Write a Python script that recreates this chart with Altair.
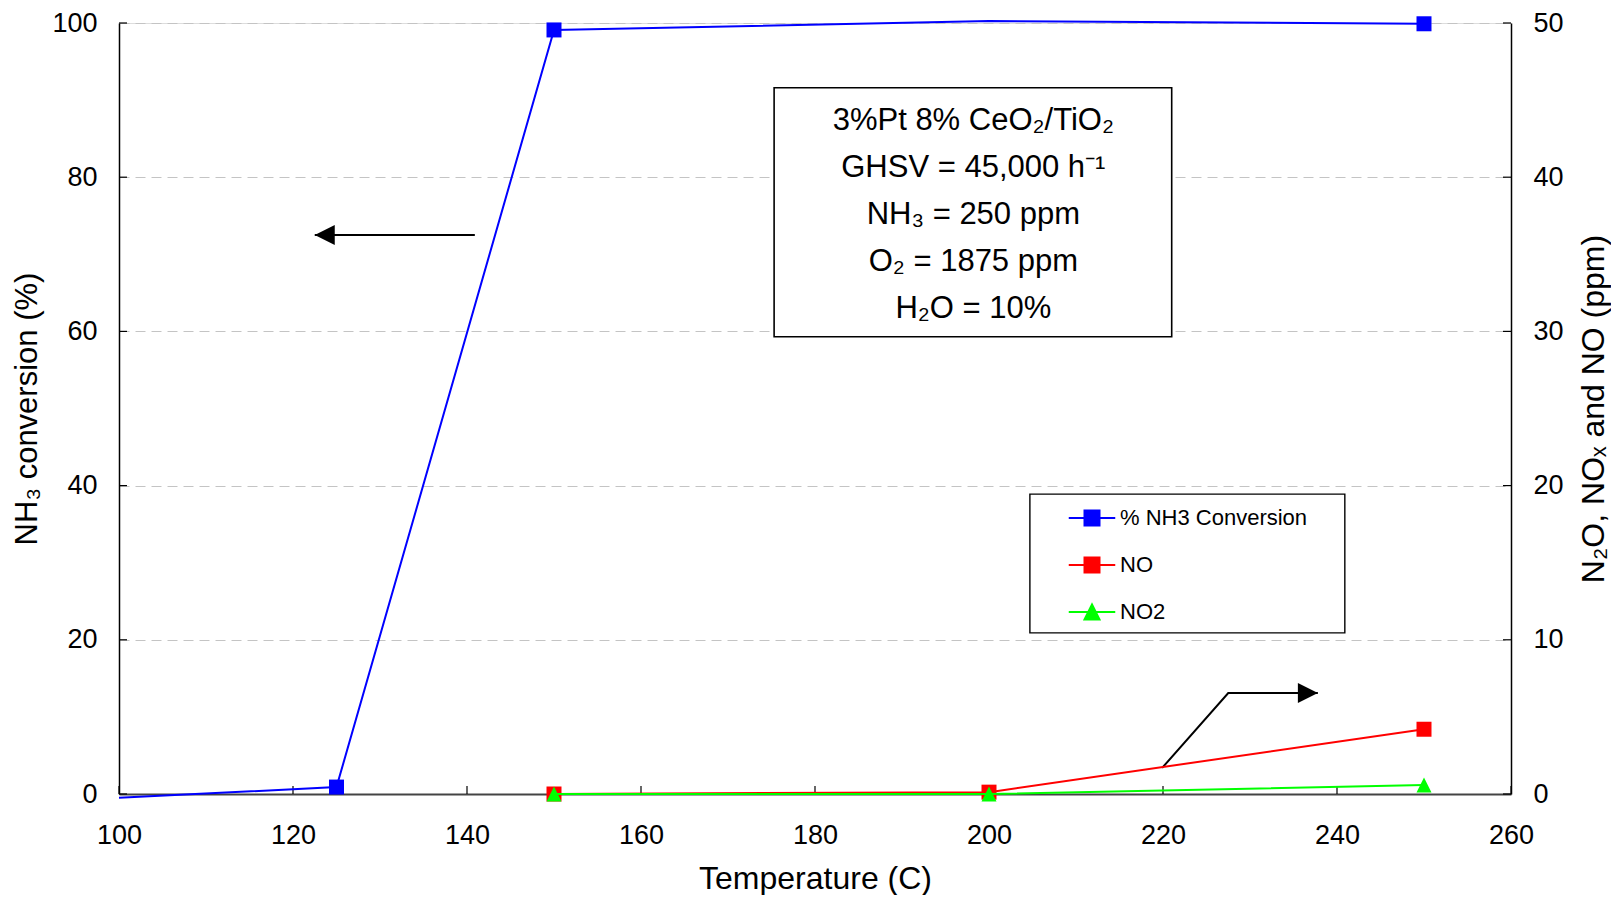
import altair as alt
import pandas as pd

# ---------------- data ----------------
temps_nh3 = [100, 125, 150, 200, 250]
nh3_conv = [-0.5, 0.9, 99.1, 100.25, 99.9]

temps_nox = [150, 200, 250]
no_ppm = [0.0, 0.12, 4.2]
no2_ppm = [0.0, 0.0, 0.58]

series_names = ["% NH3 Conversion", "NO", "NO2"]
series_colors = ["#0000FF", "#FF0000", "#00FF00"]

x_ticks = [100, 120, 140, 160, 180, 200, 220, 240, 260]
left_ticks = [0, 20, 40, 60, 80, 100]
right_ticks = [0, 10, 20, 30, 40, 50]

box_lines = [
    "3%Pt 8% CeO₂/TiO₂",
    "GHSV = 45,000 h⁻¹",
    "NH₃ = 250 ppm",
    "O₂ = 1875 ppm",
    "H₂O = 10%",
]
# annotation anchors, in data units
box_t = [175.3, 221.0]
box_v = [59.3, 91.6]
box_text_at = [198.2, 87.3]
legend_box_t = [204.7, 240.9]
legend_box_v = [20.9, 38.9]
arrow_left_t = [140.9, 122.5]
arrow_left_v = [72.5, 72.5]
arrow_right_t = [219.9, 227.5, 237.8]
arrow_right_v = [1.69, 6.55, 6.55]

# ---------------- layout ----------------
W, H = 1392, 771
FONT = "Liberation Sans"

xs = alt.Scale(domain=[100, 260], nice=False, zero=False)
ls = alt.Scale(domain=[0, 100], nice=False, zero=False)
rs = alt.Scale(domain=[0, 50], nice=False, zero=False)

common = dict(labelFont=FONT, titleFont=FONT, labelColor="black", titleColor="black",
              titleFontWeight="normal", labelFlush=False, ticks=False, format="d",
              labelFontSize=27)
x_axis = alt.Axis(values=x_ticks, title="Temperature (C)", grid=False,
                  domainColor="#444444", domainWidth=2,
                  labelPadding=28, titleFontSize=32, titlePadding=15, **common)
left_axis = alt.Axis(values=left_ticks, title="NH₃ conversion (%)", grid=True,
                     gridDash=[10, 6], gridColor="#c4c4c4", gridWidth=1,
                     domainColor="#000000", domainWidth=1.5,
                     labelPadding=22, titleFontSize=31, titlePadding=8, **common)
right_axis = alt.Axis(values=right_ticks, orient="right", title="N₂O, NOₓ and NO (ppm)",
                      grid=False, domainColor="#000000", domainWidth=1.5,
                      labelPadding=22, titleFontSize=32, titlePadding=15,
                      titleAngle=270, titleBaseline="top", **common)

X = alt.X("t:Q", scale=xs, axis=x_axis)
YL = alt.Y("v:Q", scale=ls, axis=left_axis)
YR = alt.Y("v:Q", scale=rs, axis=right_axis)

C = alt.Color("s:N", scale=alt.Scale(domain=series_names, range=series_colors), legend=None)

# legend symbols: a line stub with the marker on it
sym_sq = "M-3.1,0H3.1M-1,-1H1V1H-1Z"
sym_tri = "M-3.1,0H3.1M0,-1L1,1L-1,1Z"
legend = alt.Legend(
    orient="none", legendX=962, legendY=484, title=None, padding=0,
    labelFont=FONT, labelFontSize=22, labelColor="black", labelOffset=17, labelLimit=400,
    symbolSize=225, symbolStrokeWidth=2, symbolOffset=0, rowPadding=23,
    symbolOpacity=1,
)
LF = alt.Fill("s:N", scale=alt.Scale(domain=series_names, range=series_colors), legend=legend)
LS = alt.Stroke("s:N", scale=alt.Scale(domain=series_names, range=series_colors), legend=legend)
LSH = alt.Shape("s:N", scale=alt.Scale(domain=series_names, range=[sym_sq, sym_sq, sym_tri]),
                legend=legend)

# ---------------- tables ----------------
nh3_df = pd.DataFrame({"t": temps_nh3, "v": nh3_conv, "s": series_names[0]})
no_df = pd.DataFrame({"t": temps_nox, "v": no_ppm, "s": series_names[1]})
no2_df = pd.DataFrame({"t": temps_nox, "v": no2_ppm, "s": series_names[2]})

# ---------------- left group ----------------
lt = alt.Chart(pd.DataFrame({"v": left_ticks})).mark_rule(color="#000000", strokeWidth=1.2).encode(
    y=YL, x=alt.value(0), x2=alt.value(8))
xt = alt.Chart(pd.DataFrame({"t": x_ticks})).mark_rule(color="#000000", strokeWidth=1.2).encode(
    x=X, y=alt.value(H - 8), y2=alt.value(H))

box = alt.Chart(pd.DataFrame({"t": [box_t[0]], "t2": [box_t[1]], "v": [box_v[0]], "v2": [box_v[1]]})
                ).mark_rect(fill="white", stroke="black", strokeWidth=1.6).encode(
    x=X, x2="t2:Q", y=YL, y2="v2:Q")
box_text = alt.Chart(pd.DataFrame({"t": [box_text_at[0]], "v": [box_text_at[1]],
                                   "txt": ["\n".join(box_lines)]})).mark_text(
    font=FONT, fontSize=31, lineHeight=47, lineBreak="\n", align="center", baseline="middle",
    color="black").encode(x=X, y=YL, text="txt:N")

# legend-driving layer: its own marks sit under the white legend box
leg_layer = alt.Chart(pd.DataFrame({"s": series_names})).mark_point(
    filled=True, opacity=1, size=225).encode(
    fill=LF, stroke=LS, shape=LSH, x=alt.value(1068), y=alt.value(540))
leg_box = alt.Chart(pd.DataFrame({"t": [legend_box_t[0]], "t2": [legend_box_t[1]],
                                  "v": [legend_box_v[0]], "v2": [legend_box_v[1]]})
                    ).mark_rect(fill="white", stroke="black", strokeWidth=1.4, opacity=1).encode(
    x=X, x2="t2:Q", y=YL, y2="v2:Q")

al_df = pd.DataFrame({"t": arrow_left_t, "v": arrow_left_v})
al_line = alt.Chart(al_df).mark_line(color="black", strokeWidth=2).encode(x=X, y=YL)
al_head = alt.Chart(al_df.iloc[[1]]).mark_point(shape="M0,0L2,-1L2,1Z", size=400, filled=True,
                                                color="black", opacity=1).encode(x=X, y=YL)

nh3_line = alt.Chart(nh3_df).mark_line(strokeWidth=2).encode(x=X, y=YL, color=C)
nh3_pts = alt.Chart(nh3_df).transform_filter("datum.v >= 0 && datum.v <= 100").mark_point(
    shape="square", size=225, filled=True, opacity=1).encode(x=X, y=YL, color=C)

left = alt.layer(lt, xt, box, box_text, leg_layer, leg_box, al_line, al_head, nh3_line, nh3_pts)

# ---------------- right group ----------------
rt = alt.Chart(pd.DataFrame({"v": right_ticks})).mark_rule(color="#000000", strokeWidth=1.2).encode(
    y=YR, x=alt.value(W - 8), x2=alt.value(W))
ar_df = pd.DataFrame({"t": arrow_right_t, "v": arrow_right_v})
ar_line = alt.Chart(ar_df).mark_line(color="black", strokeWidth=2).encode(x=X, y=YR)
ar_head = alt.Chart(ar_df.iloc[[2]]).mark_point(shape="M0,0L-2,-1L-2,1Z", size=400, filled=True,
                                                color="black", opacity=1).encode(x=X, y=YR)
no_line = alt.Chart(no_df).mark_line(strokeWidth=2).encode(x=X, y=YR, color=C)
no_pts = alt.Chart(no_df).mark_point(shape="square", size=225, filled=True, opacity=1).encode(
    x=X, y=YR, color=C)
no2_line = alt.Chart(no2_df).mark_line(strokeWidth=2).encode(x=X, y=YR, color=C)
no2_pts = alt.Chart(no2_df).mark_point(shape="M0,-1L1,1L-1,1Z", size=225, filled=True,
                                       opacity=1).encode(x=X, y=YR, color=C)

right = alt.layer(rt, ar_line, ar_head, no_line, no_pts, no2_line, no2_pts)

chart = alt.layer(left, right).resolve_scale(y="independent").properties(
    width=W, height=H,
    autosize=alt.AutoSizeParams(type="none"),
    padding={"left": 111, "top": 15, "right": 100, "bottom": 101},
).configure_view(stroke="#888888", strokeWidth=2).configure(background="white")

chart.save("out.html", embed_options={"renderer": "svg", "actions": False})
